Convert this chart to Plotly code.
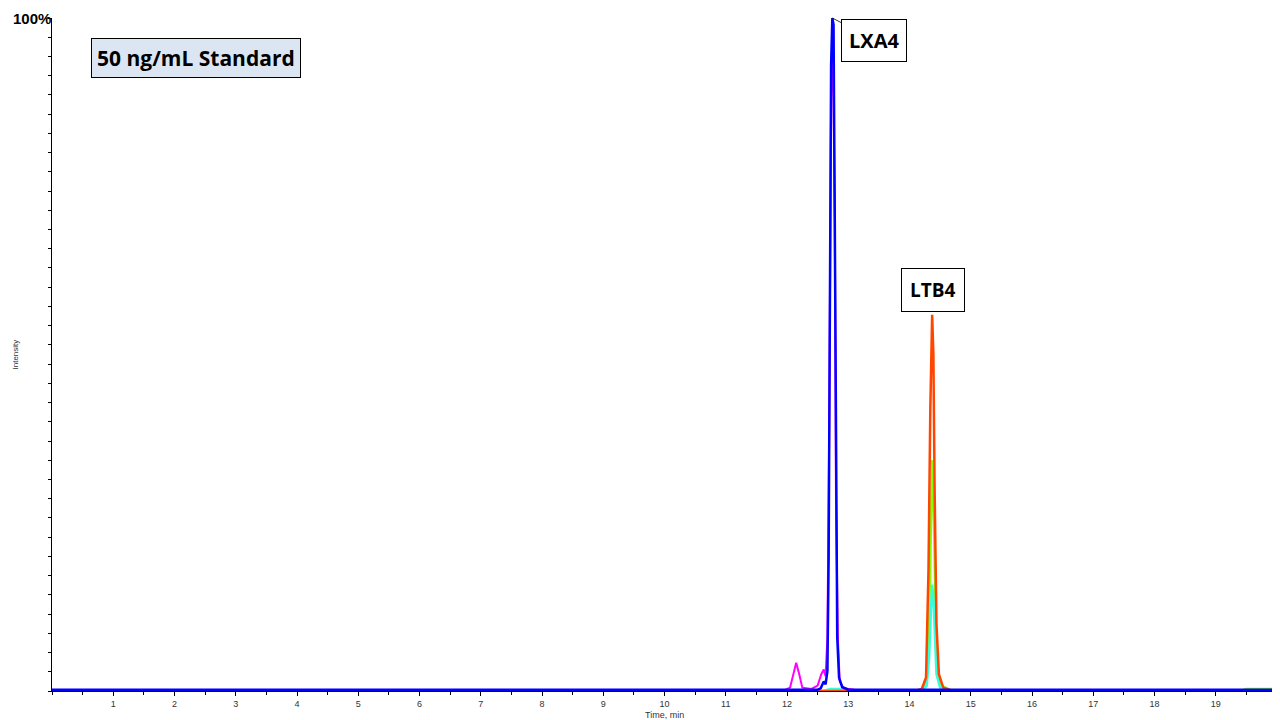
import plotly.graph_objects as go

# Time (min) and relative intensity (%) per trace
blue_t = [0, 3.0, 6.0, 9.0, 12.0, 12.5, 12.55, 12.58, 12.6, 12.63, 12.66, 12.68, 12.70, 12.72, 12.74, 12.76, 12.78, 12.80, 12.82, 12.85, 12.9, 13.0, 16.0, 20.0]
blue_y = [0.2, 0.2, 0.2, 0.2, 0.2, 0.2, 0.4, 1.0, 1.4, 1.0, 3.0, 20, 55, 93, 100, 99, 70, 30, 8, 2.0, 0.6, 0.2, 0.2, 0.2]

mag_t = [0, 11.95, 12.05, 12.1, 12.15, 12.2, 12.25, 12.4, 12.5, 12.56, 12.6, 12.63, 12.66, 12.69, 12.72, 12.75, 12.78, 12.80, 12.83, 12.86, 12.92, 13.1, 20.0]
mag_y = [0.1, 0.1, 0.5, 2.5, 4.2, 2.5, 0.5, 0.3, 0.8, 2.5, 3.2, 2.2, 8, 40, 88, 96, 70, 28, 8, 1.5, 0.4, 0.2, 0.1]

orange_t = [0, 14.1, 14.2, 14.27, 14.31, 14.34, 14.37, 14.39, 14.41, 14.44, 14.48, 14.55, 14.7, 20.0]
orange_y = [0.0, 0.0, 0.3, 2.0, 18, 42, 55.9, 50, 30, 10, 2.5, 0.5, 0.0, 0.0]

green_t = [0, 14.1, 14.2, 14.28, 14.32, 14.35, 14.37, 14.39, 14.41, 14.44, 14.48, 14.56, 14.7, 19.4, 19.5, 19.9, 20.0]
green_y = [0.0, 0.0, 0.3, 1.5, 10, 25, 34.3, 30, 18, 5, 1.5, 0.6, 0.0, 0.0, 0.3, 0.3, 0.0]

cyan_t = [0, 12.6, 12.7, 12.9, 13.0, 14.2, 14.28, 14.32, 14.35, 14.37, 14.39, 14.41, 14.44, 14.5, 14.6, 20.0]
cyan_y = [0.0, 0.0, 0.3, 0.3, 0.0, 0.0, 0.8, 5, 12, 15.8, 14, 8, 2.5, 0.5, 0.0, 0.0]

x_ticks = list(range(1, 20))

fig = go.Figure()
for t, y, c, w in [
    (green_t, green_y, "#80ff00", 2.5),
    (cyan_t, cyan_y, "#33ffdd", 2.5),
    (orange_t, orange_y, "#ff4500", 2.5),
    (mag_t, mag_y, "#ff00ff", 2.0),
    (blue_t, blue_y, "#0000ff", 2.5),
]:
    fig.add_trace(go.Scatter(x=t, y=y, mode="lines", line=dict(color=c, width=w),
                             showlegend=False, hoverinfo="skip"))

# small marker on y axis
fig.add_trace(go.Scatter(x=[-0.08], y=[4.9], mode="markers", cliponaxis=False,
                         marker=dict(symbol="arrow-right", size=8, color="#5a5a9a",
                                     line=dict(color="#000000", width=1)),
                         showlegend=False, hoverinfo="skip"))

fig.update_layout(
    width=1272, height=712,
    margin=dict(l=44, r=3, t=10, b=29),
    paper_bgcolor="white", plot_bgcolor="white",
    font=dict(family="Liberation Sans, Arial", size=9, color="#333333"),
    xaxis=dict(range=[0, 20], showgrid=False, zeroline=False, automargin=False,
               showline=True, linecolor="black", linewidth=1,
               tickvals=x_ticks, ticktext=[str(v) for v in x_ticks],
               ticks="outside", ticklen=4, tickcolor="black",
               minor=dict(dtick=0.5, tick0=0, ticks="outside", ticklen=3, tickcolor="black"),
               tickfont=dict(size=9, color="#333333")),
    yaxis=dict(range=[0, 100], showgrid=False, zeroline=False, automargin=False,
               showline=True, linecolor="black", linewidth=1,
               tick0=0, dtick=100/35, ticks="outside", ticklen=3, tickcolor="black",
               showticklabels=False),
)

# axis titles
fig.add_annotation(x=0.5, y=0, xref="paper", yref="paper", text="Time, min", showarrow=False,
                   xanchor="center", yanchor="top", yshift=-17,
                   font=dict(family="Liberation Sans, Arial", size=9, color="#333333"))
fig.add_annotation(x=0, y=0.5, xref="paper", yref="paper", text="Intensity", showarrow=False,
                   textangle=-90, xanchor="center", yanchor="middle", xshift=-37,
                   font=dict(family="Liberation Sans, Arial", size=8, color="#333333"))

fig.add_annotation(x=0, y=100, xref="x", yref="y", text="<b>100%</b>", showarrow=False,
                   xanchor="right", yanchor="middle", xshift=1,
                   font=dict(family="Liberation Sans, Arial", size=15, color="black"))
fig.add_annotation(x=0.0, y=1.0, xref="paper", yref="paper", text="<b>50 ng/mL Standard</b>",
                   showarrow=False, xanchor="left", yanchor="top", xshift=39, yshift=-20,
                   bgcolor="#dce6f2", bordercolor="black", borderwidth=1, borderpad=5,
                   font=dict(family="Open Sans", size=21, color="black"))
fig.add_annotation(x=12.74, y=100, xref="x", yref="y", text="<b>LXA4</b>",
                   showarrow=True, arrowhead=0, arrowwidth=0.8, arrowcolor="black",
                   ax=42, ay=22, xanchor="center", yanchor="middle",
                   bgcolor="white", bordercolor="black", borderwidth=1, borderpad=7,
                   font=dict(family="Open Sans", size=20, color="black"))
fig.add_annotation(x=14.38, y=55.9, xref="x", yref="y", text="<b>LTB4</b>",
                   showarrow=False, xanchor="center", yanchor="bottom", yshift=3,
                   bgcolor="white", bordercolor="black", borderwidth=1, borderpad=8,
                   font=dict(family="Open Sans", size=19, color="black"))

fig.write_html("out.html")
